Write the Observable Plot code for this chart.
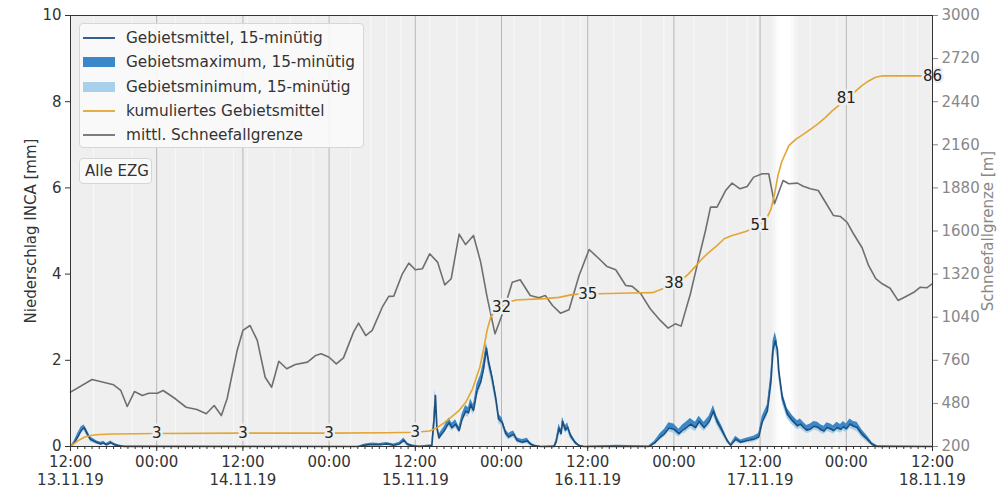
<!DOCTYPE html>
<html>
<head>
<meta charset="utf-8">
<script src="https://cdn.jsdelivr.net/npm/d3@7"></script>
<script src="https://cdn.jsdelivr.net/npm/@observablehq/plot@0.6"></script>
<style>
  body { margin: 0; background: #fff; font-family: "DejaVu Sans", sans-serif; }
  #wrap { position: relative; width: 1002px; height: 490px; overflow: hidden; }
  #legend {
    position: absolute; left: 79px; top: 23px; width: 285px; height: 125px;
    background: rgba(249,249,249,0.9); border: 1px solid #d6d6d6; border-radius: 4px;
    box-sizing: border-box; font-size: 15.3px; color: #333;
  }
  #legend .row { position: absolute; left: 0; height: 20px; display: flex; align-items: center; white-space: nowrap; }
  #legend svg { margin-left: 2px; margin-right: 10px; }
  #tag {
    position: absolute; left: 79px; top: 158px; width: 73px; height: 26px;
    background: rgba(249,249,249,0.9); border: 1px solid #d6d6d6; border-radius: 4px;
    box-sizing: border-box; font-size: 15px; color: #333; padding-left: 5px; line-height: 24px;
  }
</style>
</head>
<body>
<div id="wrap">
  <div id="chart"></div>
  <div id="legend"></div>
  <div id="tag">Alle EZG</div>
</div>
<script>
// Time axis: hours after 13.11.2019 12:00
const startUTC = Date.UTC(2019, 10, 13, 12);
const at = h => new Date(startUTC + h * 3600e3);

// x tick labels every 12 hours
const xTickHours = [0, 12, 24, 36, 48, 60, 72, 84, 96, 108, 120];
const xTickLabels = ["12:00\n13.11.19", "00:00", "12:00\n14.11.19", "00:00", "12:00\n15.11.19",
  "00:00", "12:00\n16.11.19", "00:00", "12:00\n17.11.19", "00:00", "12:00\n18.11.19"];

// Left axis (precipitation, mm) and right axis (snow line, m)
const precipTicks = [0, 2, 4, 6, 8, 10];
const snowTicks = [200, 480, 760, 1040, 1320, 1600, 1880, 2160, 2440, 2720, 3000];

// Mean snow line [m]
const snowHours = [0, 3.0, 6.0, 7.0, 7.9, 8.9, 10.0, 10.9, 12.1, 12.9, 14.6, 16.1, 17.6, 18.9, 20.0, 21.0, 21.8,
  23.2, 24.0, 25.0, 26.0, 27.1, 28.0, 29.0, 30.1, 31.3, 33.0, 34.1, 34.9, 36.0, 37.0, 38.0, 39.4, 40.1, 41.1,
  42.0, 43.4, 44.3, 45.0, 46.2, 47.1, 48.0, 49.0, 50.0, 51.1, 52.1, 53.0, 54.1, 55.0, 56.1, 57.1, 58.0, 59.1,
  60.3, 61.5, 62.6, 64.0, 65.2, 66.1, 67.1, 68.2, 69.4, 70.8, 72.2, 73.8, 74.7, 75.9, 77.3, 78.2, 79.4, 80.7,
  82.1, 83.2, 84.2, 85.0, 86.3, 87.5, 88.4, 89.1, 90.0, 91.2, 92.1, 93.2, 94.2, 95.1, 96.3, 97.2, 98.0, 99.2,
  100.0, 101.2, 102.0, 103.0, 104.1, 105.1, 106.2, 107.2, 108.1, 109.0, 110.2, 111.1, 112.1, 113.0, 114.1,
  115.2, 116.3, 117.4, 118.3, 119.2, 120.0];
const snowLine = [553, 635, 601, 564, 460, 557, 531, 546, 546, 564, 510, 455, 440, 413, 466, 401, 510,
  824, 954, 986, 889, 650, 585, 754, 705, 733, 748, 791, 802, 780, 737, 776, 943, 1001, 921,
  954, 1105, 1175, 1177, 1322, 1391, 1348, 1355, 1452, 1398, 1250, 1290, 1580, 1512, 1571, 1398, 1170, 932,
  1084, 1267, 1283, 1181, 1166, 1181, 1116, 1066, 1088, 1311, 1480, 1410, 1369, 1348, 1246, 1240, 1192, 1095,
  1019, 969, 997, 982, 1192, 1430, 1603, 1755, 1755, 1863, 1911, 1874, 1889, 1950, 1972, 1972, 1777, 1928,
  1907, 1911, 1891, 1874, 1863, 1787, 1701, 1694, 1657, 1582, 1491, 1376, 1290, 1257, 1228,
  1149, 1175, 1202, 1235, 1231, 1258];

// Accumulated areal mean precipitation [mm]
const cumHours = [0, 1, 2, 3, 4, 6, 12, 24, 36, 44, 48, 50, 51, 52, 53, 54, 55, 56, 57, 57.5, 58, 58.5, 59, 60,
  61, 62, 66, 68, 70, 72, 78, 81, 82, 83, 84, 85, 86, 87, 88, 89, 90, 91, 92, 94, 96, 97, 97.5, 98, 98.5, 99,
  100, 101, 102, 103, 104, 105, 106, 107, 108, 109, 110, 111, 112, 113, 120];
const cumPrecip = [0, 1.3, 2.2, 2.6, 2.8, 2.9, 3.0, 3.1, 3.1, 3.2, 3.3, 3.6, 4.3, 5.5, 6.8, 8.2, 10.2, 13.5, 18.5, 22.5,
  27.0, 30.0, 31.2, 32.4, 33.5, 34.0, 34.3, 34.6, 35.3, 35.4, 35.6, 35.7, 36.3, 37.0, 37.8, 38.5, 40.0, 41.8,
  43.7, 45.2, 46.6, 48.2, 48.9, 49.9, 51.4, 53.2, 55.0, 58.5, 63.0, 66.0, 69.8, 71.3, 72.4, 73.6, 74.8, 76.2,
  77.8, 79.2, 80.7, 82.0, 83.5, 84.7, 85.6, 86.0, 86.0];
const cumLabelHours = [12, 24, 36, 48, 60, 72, 84, 96, 108, 120];

// 15-minute areal precipitation: mean, maximum, minimum [mm]
const precipHours = [0, 0.5, 1.0, 1.5, 1.9, 2.3, 2.8, 3.3, 3.7, 4.2, 4.6, 5.0, 5.6, 6.0, 6.6, 7.5,
  40, 41, 42, 43, 44, 45, 45.8, 46.4, 46.9, 47.5, 48.5, 50.3, 50.6, 50.8, 51.0, 51.3, 51.7, 52.0, 52.4, 52.7,
  53.1, 53.6, 54.1, 54.5, 55.0, 55.4, 55.7, 56.1, 56.6, 57.1, 57.5, 57.9, 58.2, 58.7, 59.2, 59.6, 60.1, 60.6,
  61.0, 61.4, 61.7, 62.2, 62.9, 63.6, 64.0, 64.5, 65.5, 67.3, 67.6, 68.0, 68.3, 68.5, 68.9, 69.2, 69.6, 70.0,
  70.3, 70.8, 71.5, 76, 80.5, 81.3, 82.1, 82.7, 83.3, 84.0, 84.7, 85.2, 85.6, 86.3, 87.0, 87.5, 88.2, 88.9,
  89.5, 90.0, 90.7, 91.4, 91.9, 92.6, 93.3, 94.2, 95.1, 95.8, 96.3, 97.0, 97.5, 97.8, 98.1, 98.4, 98.6, 99.1,
  99.8, 100.5, 101.2, 101.6, 102.1, 102.5, 103.0, 103.5, 104.0, 104.5, 104.9, 105.3, 105.8, 106.2, 106.7,
  107.2, 107.6, 108.0, 108.5, 109.0, 109.5, 110.2, 110.9, 111.6, 112.3, 120];
const precipMean = [0, 0.08, 0.22, 0.38, 0.44, 0.30, 0.16, 0.12, 0.09, 0.06, 0.08, 0.04, 0.09, 0.05, 0.02, 0,
  0, 0.03, 0.05, 0.04, 0.06, 0.03, 0.06, 0.15, 0.05, 0.02, 0, 0.02, 0.60, 1.18, 0.45, 0.20, 0.30, 0.36, 0.48, 0.55,
  0.44, 0.52, 0.37, 0.63, 0.82, 0.78, 0.97, 0.84, 1.30, 1.50, 1.80, 2.28, 1.95, 1.58, 1.12, 0.64, 0.55, 0.30,
  0.22, 0.26, 0.28, 0.14, 0.10, 0.13, 0.06, 0.02, 0, 0, 0.10, 0.42, 0.30, 0.58, 0.38, 0.45, 0.25, 0.15,
  0.08, 0.02, 0, 0.01, 0, 0.08, 0.22, 0.30, 0.43, 0.40, 0.30, 0.38, 0.42, 0.52, 0.44, 0.58, 0.44, 0.58,
  0.82, 0.58, 0.37, 0.14, 0.03, 0.17, 0.10, 0.14, 0.17, 0.22, 0.58, 0.82, 1.50, 2.25, 2.45, 2.25, 1.75, 1.12,
  0.75, 0.60, 0.48, 0.52, 0.44, 0.38, 0.41, 0.47, 0.45, 0.39, 0.36, 0.44, 0.41, 0.37, 0.44,
  0.40, 0.46, 0.41, 0.52, 0.47, 0.44, 0.28, 0.17, 0.05, 0, 0];
const precipMax = [0, 0.12, 0.30, 0.46, 0.50, 0.38, 0.22, 0.17, 0.13, 0.10, 0.12, 0.07, 0.13, 0.08, 0.04, 0.01,
  0, 0.06, 0.08, 0.07, 0.09, 0.06, 0.10, 0.20, 0.08, 0.04, 0.01, 0.04, 0.75, 1.30, 0.55, 0.28, 0.38, 0.45, 0.58, 0.66,
  0.54, 0.62, 0.46, 0.74, 0.95, 0.90, 1.10, 0.97, 1.45, 1.66, 1.98, 2.40, 2.10, 1.72, 1.25, 0.75, 0.66, 0.38,
  0.30, 0.34, 0.36, 0.20, 0.16, 0.19, 0.10, 0.04, 0, 0.02, 0.16, 0.52, 0.40, 0.68, 0.48, 0.55, 0.33, 0.21,
  0.13, 0.04, 0, 0.03, 0.01, 0.12, 0.30, 0.40, 0.55, 0.52, 0.40, 0.50, 0.55, 0.65, 0.56, 0.70, 0.56, 0.70,
  0.95, 0.70, 0.47, 0.20, 0.06, 0.24, 0.15, 0.20, 0.24, 0.30, 0.70, 0.96, 1.68, 2.45, 2.65, 2.45, 1.92, 1.26,
  0.88, 0.72, 0.60, 0.64, 0.55, 0.49, 0.52, 0.58, 0.56, 0.50, 0.47, 0.55, 0.52, 0.48, 0.56,
  0.51, 0.58, 0.52, 0.64, 0.58, 0.56, 0.38, 0.25, 0.09, 0.02, 0];
const precipMin = [0, 0.04, 0.16, 0.30, 0.36, 0.24, 0.10, 0.07, 0.05, 0.03, 0.04, 0.02, 0.05, 0.02, 0, 0,
  0, 0.01, 0.02, 0.01, 0.03, 0.01, 0.03, 0.08, 0.02, 0, 0, 0, 0.45, 1.00, 0.35, 0.14, 0.22, 0.28, 0.40, 0.46,
  0.36, 0.43, 0.30, 0.54, 0.70, 0.68, 0.85, 0.73, 1.15, 1.35, 1.62, 2.10, 1.80, 1.42, 0.98, 0.54, 0.46, 0.22,
  0.15, 0.19, 0.20, 0.08, 0.05, 0.07, 0.02, 0, 0, 0, 0.05, 0.33, 0.22, 0.48, 0.30, 0.36, 0.18, 0.09,
  0.04, 0, 0, 0, 0, 0.04, 0.15, 0.22, 0.34, 0.30, 0.22, 0.29, 0.32, 0.42, 0.34, 0.47, 0.35, 0.47,
  0.70, 0.48, 0.28, 0.08, 0.01, 0.10, 0.05, 0.08, 0.10, 0.15, 0.47, 0.70, 1.34, 2.05, 2.25, 2.05, 1.58, 0.98,
  0.64, 0.50, 0.39, 0.42, 0.35, 0.30, 0.32, 0.38, 0.36, 0.31, 0.28, 0.35, 0.32, 0.29, 0.35,
  0.31, 0.36, 0.32, 0.42, 0.38, 0.34, 0.20, 0.10, 0.02, 0, 0];

// Quarter-hours without complete data coverage (lighter background strips)
const gapHours = [3.2, 8.6, 14.6, 18.5, 22.7, 24.6, 28.3, 30.6, 33.8, 39, 41.8, 44, 46, 50, 53.8, 56.6, 61.7,
  65.4, 68.6, 71, 75.6, 79.4, 82.6, 86.8, 91.4, 94.2, 95.6, 103, 106.7, 110.4, 113.2, 116, 117.9];
const gapBandStart = [97.7, 98.2, 98.6];
const gapBandEnd = [101.3, 100.8, 100.3];

// ---- build tables ----
const snowToLeft = s => (s - 200) / 280;
const snow = snowHours.map((h, i) => ({t: at(h), y: snowToLeft(snowLine[i])}));
const cum = cumHours.map((h, i) => ({t: at(h), y: cumPrecip[i] / 10, v: cumPrecip[i]}));
const cumLabels = cumLabelHours.map(h => cum[cumHours.indexOf(h)]);
const precip = precipHours.map((h, i) => ({t: at(h), mean: precipMean[i], max: precipMax[i], min: precipMin[i]}));
const gapBands = gapBandStart.map((s, i) => ({x1: at(s), x2: at(gapBandEnd[i]), o: [0.35, 0.6, 0.9][i]}));
const majorTicks = xTickHours.map(at);
const minorTicks = d3.range(0, 121).map(at);
const tickLabel = d => xTickLabels[Math.round((d - startUTC) / (12 * 3600e3))];

const bg = "#efefef";
const chart = Plot.plot({
  width: 1002,
  height: 490,
  marginLeft: 70,
  marginRight: 70,
  marginTop: 15,
  marginBottom: 44,
  style: {fontFamily: "DejaVu Sans, sans-serif", fontSize: "15px", color: "#333", background: "white"},
  x: {type: "utc", domain: [at(0), at(120)]},
  y: {domain: [0, 10]},
  marks: [
    Plot.frame({fill: bg, stroke: null}),
    Plot.ruleX(gapHours.map(at), {stroke: "white", strokeOpacity: 0.5, strokeWidth: 1.3}),
    Plot.rectY(gapBands, {x1: "x1", x2: "x2", y1: 0, y2: 10, fill: "white", fillOpacity: "o"}),
    Plot.ruleX(majorTicks, {stroke: "#b0b0b0", strokeWidth: 0.9}),
    Plot.areaY(precip, {x: "t", y1: "mean", y2: "max", fill: "#3a87c9", curve: "linear"}),
    Plot.areaY(precip, {x: "t", y1: "min", y2: "mean", fill: "#a8d0ea", curve: "linear"}),
    Plot.lineY(precip, {x: "t", y: "mean", stroke: "#1d4f7e", strokeWidth: 1.7}),
    Plot.lineY(snow, {x: "t", y: "y", stroke: "#6f6f6f", strokeWidth: 1.6}),
    Plot.lineY(cum, {x: "t", y: "y", stroke: "#e3a534", strokeWidth: 1.6}),
    Plot.text(cumLabels, {x: "t", y: "y", text: d => String(Math.round(d.v)), fill: "#222",
      stroke: bg, strokeWidth: 5, fontSize: 15}),
    Plot.axisX(minorTicks, {tickSize: 3, tickFormat: () => "", stroke: "#333"}),
    Plot.axisX(majorTicks, {tickSize: 5, tickFormat: tickLabel, lineHeight: 1.2, tickPadding: 3,
      fill: "#333", fontSize: 15, label: null}),
    Plot.axisY(precipTicks, {anchor: "left", tickSize: 5, fill: "#333", fontSize: 15,
      label: "Niederschlag INCA [mm]", labelAnchor: "center", labelOffset: 45, labelArrow: "none"}),
    Plot.axisY(snowTicks.map(snowToLeft), {anchor: "right", tickSize: 5, color: "#888", fontSize: 15,
      tickFormat: v => String(Math.round(v * 280 + 200)),
      label: "Schneefallgrenze [m]", labelAnchor: "center", labelOffset: 60, labelArrow: "none"}),
    Plot.frame({stroke: "#333", strokeWidth: 1})
  ]
});
document.getElementById("chart").appendChild(chart);

// legend
const legendItems = [
  {label: "Gebietsmittel, 15-minütig", kind: "line", color: "#1d4f7e"},
  {label: "Gebietsmaximum, 15-minütig", kind: "patch", color: "#3a87c9"},
  {label: "Gebietsminimum, 15-minütig", kind: "patch", color: "#a8d0ea"},
  {label: "kumuliertes Gebietsmittel", kind: "line", color: "#e3a534"},
  {label: "mittl. Schneefallgrenze", kind: "line", color: "#6f6f6f"}
];
const legend = document.getElementById("legend");
legendItems.forEach((it, i) => {
  const row = document.createElement("div");
  row.className = "row";
  row.style.top = (4 + i * 24.3) + "px";
  const sw = it.kind === "line"
    ? `<svg width="34" height="12"><line x1="1" y1="6" x2="33" y2="6" stroke="${it.color}" stroke-width="1.8"/></svg>`
    : `<svg width="34" height="12"><rect x="1" y="1" width="32" height="10" fill="${it.color}"/></svg>`;
  row.innerHTML = sw + `<span>${it.label}</span>`;
  legend.appendChild(row);
});
</script>
</body>
</html>
